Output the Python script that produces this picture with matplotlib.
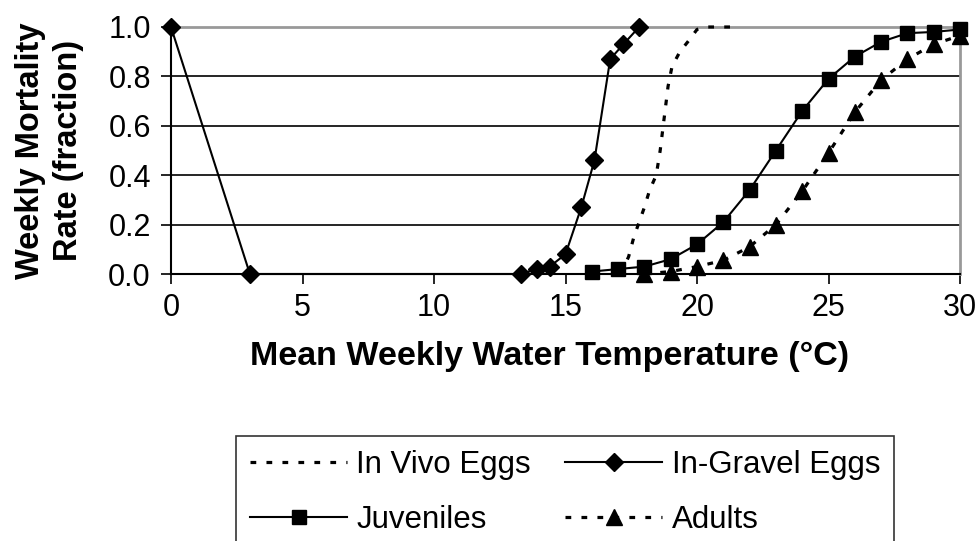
import matplotlib.pyplot as plt

plt.rcParams['font.family'] = ['Liberation Sans', 'DejaVu Sans']

# In Vivo Eggs (dotted, no markers)
vivo_t = [17.1, 17.4, 17.6, 18.0, 18.2, 18.45, 18.6, 18.75, 18.9, 19.05, 19.35, 19.65, 20.0, 20.3, 21.5]
vivo_m = [0.0, 0.07, 0.15, 0.27, 0.34, 0.40, 0.50, 0.63, 0.76, 0.84, 0.90, 0.94, 0.99, 1.0, 1.0]

# In-Gravel Eggs
gravel_t = [0, 3, 13.3, 13.9, 14.4, 15.0, 15.6, 16.1, 16.7, 17.2, 17.8]
gravel_m = [1.0, 0.0, 0.0, 0.02, 0.03, 0.08, 0.27, 0.46, 0.87, 0.93, 1.0]

# Juveniles
juv_t = [16, 17, 18, 19, 20, 21, 22, 23, 24, 25, 26, 27, 28, 29, 30]
juv_m = [0.01, 0.02, 0.03, 0.06, 0.12, 0.21, 0.34, 0.50, 0.66, 0.79, 0.88, 0.94, 0.975, 0.98, 0.99]

# Adults
adult_t = [18, 19, 20, 21, 22, 23, 24, 25, 26, 27, 28, 29, 30]
adult_m = [0.0, 0.01, 0.03, 0.055, 0.11, 0.20, 0.335, 0.49, 0.655, 0.785, 0.87, 0.93, 0.965]

fig = plt.figure(figsize=(9.8, 5.41), dpi=100)
ax = fig.add_axes([171 / 980, 1 - 274 / 541, (960 - 171) / 980, (274 - 27) / 541])

dots = (1.8, 3.2)
l_vivo, = ax.plot(vivo_t, vivo_m, color='black', lw=2.3, dashes=dots, clip_on=False, zorder=5)
l_gravel, = ax.plot(gravel_t, gravel_m, color='black', lw=1.5, marker='D', ms=9.5, clip_on=False, zorder=4)
l_juv, = ax.plot(juv_t, juv_m, color='black', lw=1.5, marker='s', ms=10, clip_on=False, zorder=4)
l_adult, = ax.plot(adult_t, adult_m, color='black', lw=2.3, dashes=dots, marker='^', ms=11,
                   clip_on=False, zorder=3)

ax.set_xlim(0, 30)
ax.set_ylim(0, 1.0)
ax.set_xticks([0, 5, 10, 15, 20, 25, 30])
ax.set_yticks([0.0, 0.2, 0.4, 0.6, 0.8, 1.0])
ax.set_yticklabels(['0.0', '0.2', '0.4', '0.6', '0.8', '1.0'])
ax.grid(axis='y', color='black', lw=1.2)
ax.set_axisbelow(True)
ax.tick_params(direction='out', length=7.5, width=1.2, labelsize=22, colors='black')
ax.tick_params(axis='y', pad=7)
ax.tick_params(axis='x', pad=6)
for s in ['left', 'bottom']:
    ax.spines[s].set_linewidth(1.5)
for s in ['top', 'right']:
    ax.spines[s].set_color('#999999')
    ax.spines[s].set_linewidth(2)

ax.set_xlabel('Mean Weekly Water Temperature (°C)', fontsize=24.5, fontweight='bold')
ax.xaxis.set_label_coords((550 - 171) / (960 - 171), -0.27)
ax.set_ylabel('Weekly Mortality\nRate (fraction)', fontsize=23.5, fontweight='bold',
              linespacing=1.3)
ax.yaxis.set_label_coords(-(171 - 84) / (960 - 171), 0.5)

leg = fig.legend([l_vivo, l_juv, l_gravel, l_adult],
                 ['In Vivo Eggs', 'Juveniles', 'In-Gravel Eggs', 'Adults'],
                 ncol=2, loc='upper left', bbox_to_anchor=(236 / 980, 1 - 436 / 541),
                 fontsize=22.5, frameon=True, fancybox=False, edgecolor='black',
                 handlelength=3.1, columnspacing=1.1, handletextpad=0.3, borderaxespad=0,
                 labelspacing=0.8, borderpad=0.45)
leg.get_frame().set_linewidth(1.2)

plt.savefig('out.png', dpi=100)
